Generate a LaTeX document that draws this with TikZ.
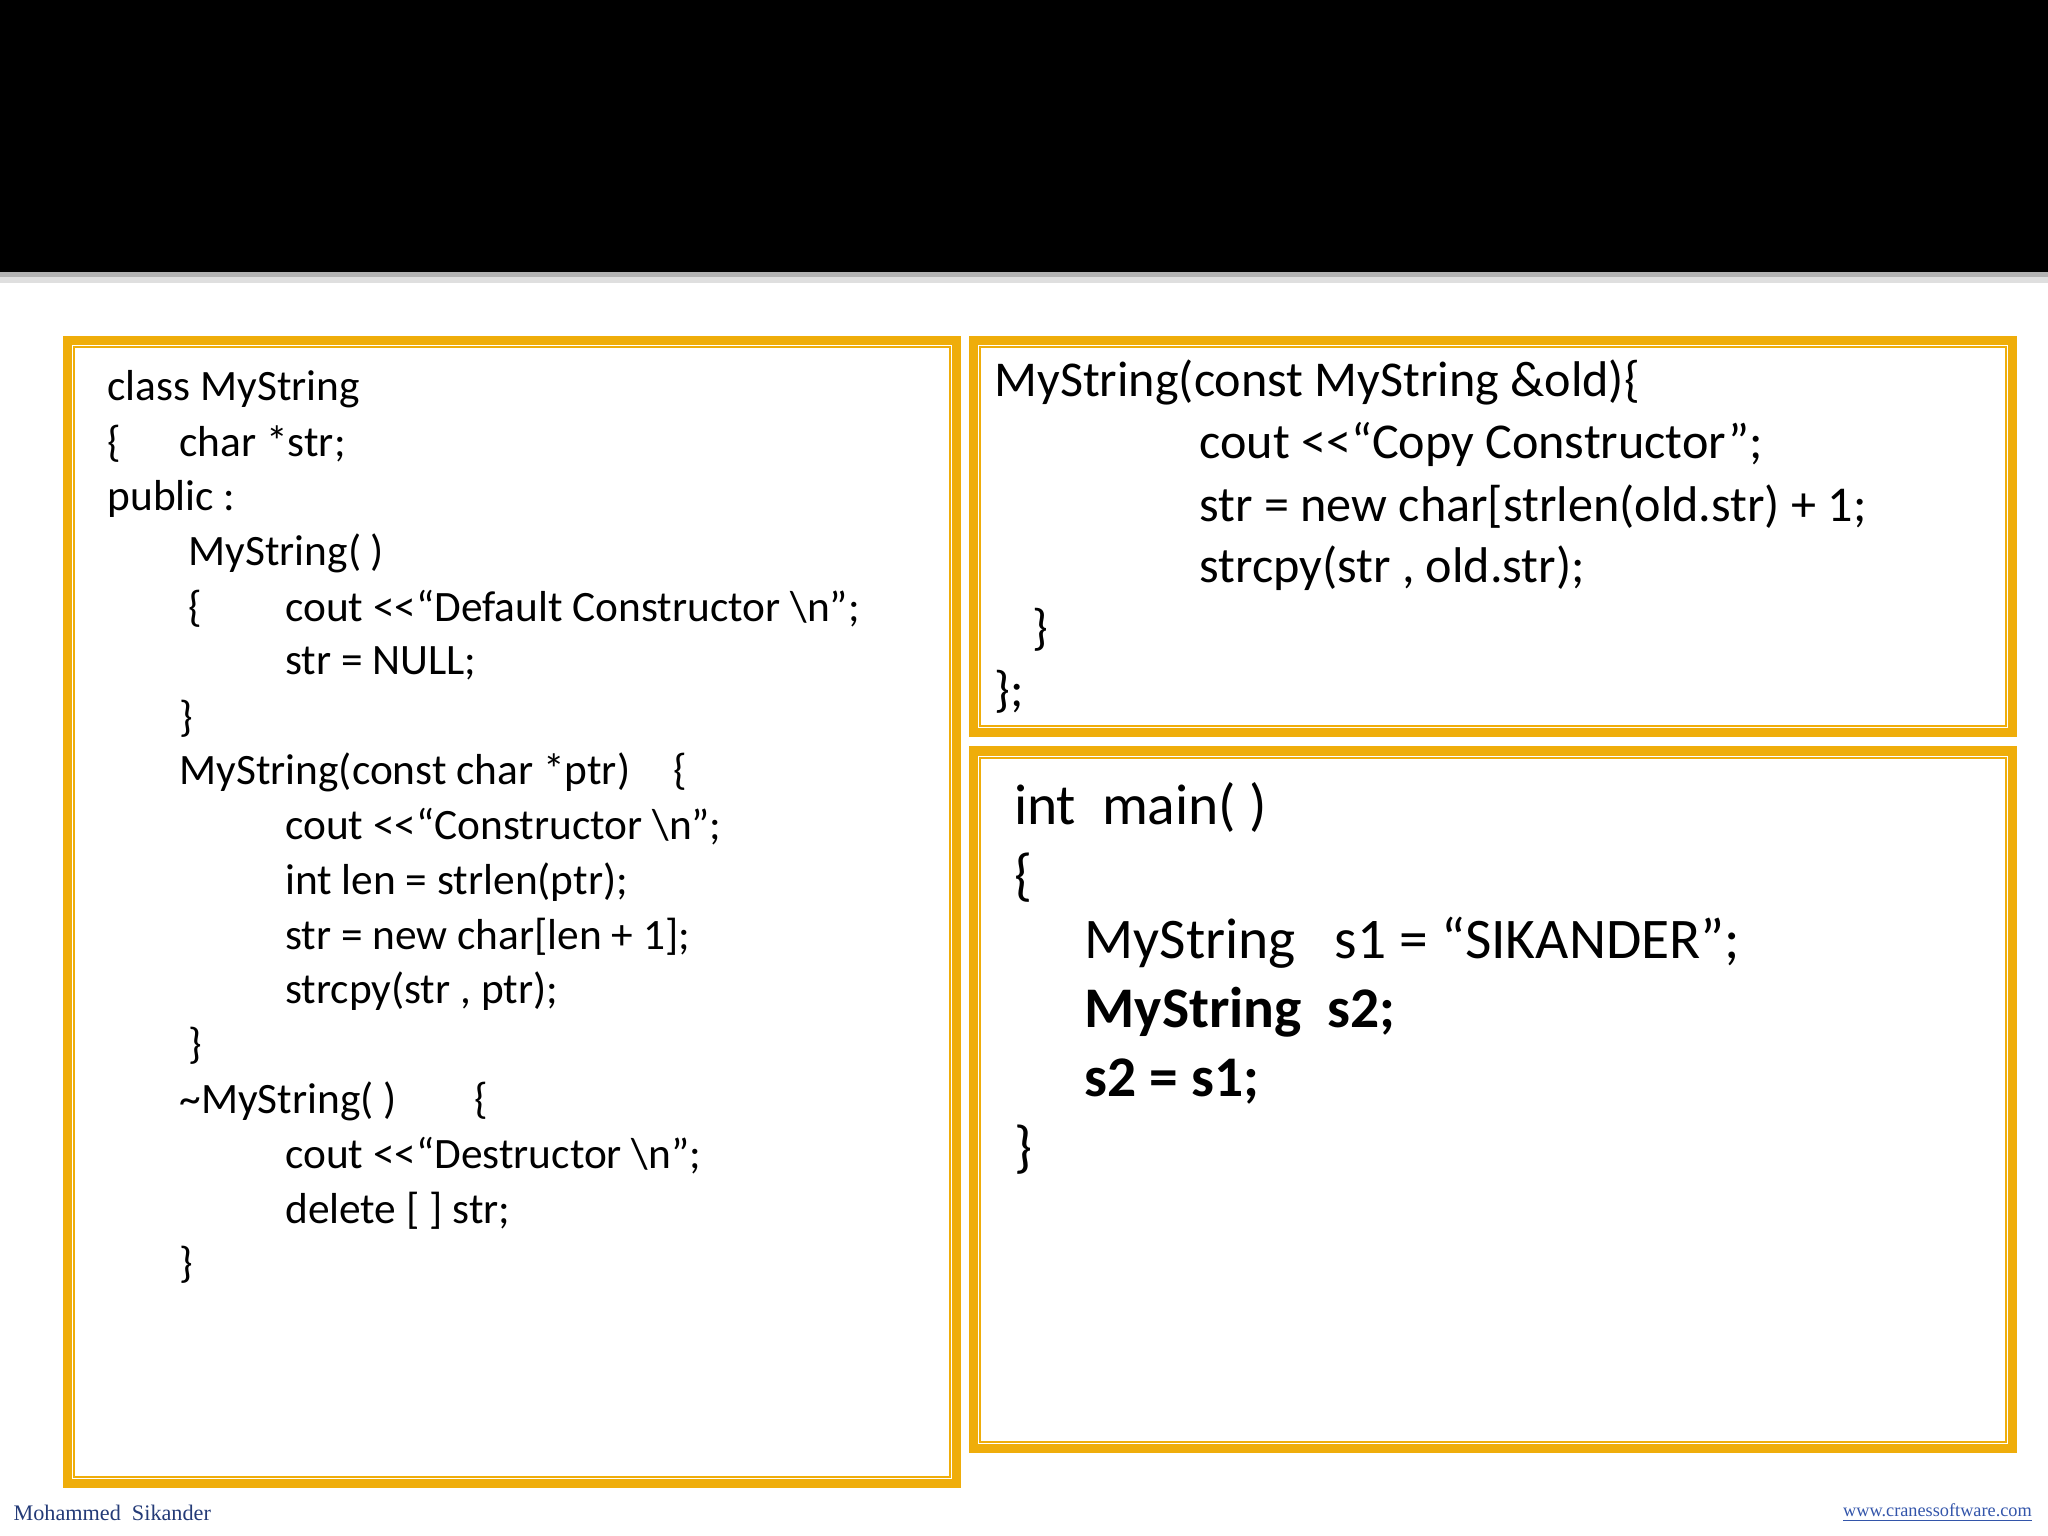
\documentclass[tikz,border=0pt]{standalone}
\usepackage{fontspec}
\setmainfont{Carlito}
\newfontfamily\tnr{Liberation Serif}
\definecolor{org}{HTML}{EFAD0A}
\definecolor{lnk}{HTML}{3355AA}
\newcommand{\ltlt}{{<}{<}}
\begin{document}
\begin{tikzpicture}[x=0.5pt,y=-0.5pt,
  frame/.style={draw=org,line width=3.5pt},
  inner/.style={draw=org,line width=0.8pt},
  code/.style={anchor=west,inner sep=0pt,font=\fontsize{16.6}{16.6}\selectfont},
  codeb/.style={anchor=west,inner sep=0pt,font=\fontsize{19.2}{19.2}\selectfont},
  codec/.style={anchor=west,inner sep=0pt,font=\fontsize{22}{22}\selectfont}]
\useasboundingbox (0,0) rectangle (1568,1176);
\fill[black] (0,0) rectangle (1568,208);
\fill[gray!60] (0,208) rectangle (1568,212);
\fill[gray!25] (0,212) rectangle (1568,217);
% boxes
\draw[frame] (52,261) rectangle (732,1136);
\draw[inner] (57,266) rectangle (727,1131);
\draw[frame] (745,261) rectangle (1541,561);
\draw[inner] (750,266) rectangle (1536,556);
\draw[frame] (745,575) rectangle (1541,1109);
\draw[inner] (750,580) rectangle (1536,1104);
% left code
\node[code] (l1) at (82,298) {class MyString};
\node[code] (l2a) at (82,340) {\{};
\node[code] (l2) at (137,340) {char *str;};
\node[code] (l3) at (82,382) {public :};
\node[code] (l4) at (144,424) {MyString( )};
\node[code] (l5a) at (144,466) {\{};
\node[code] (l5) at (218,466) {cout \ltlt“Default Constructor \textbackslash n”;};
\node[code] (l6) at (218,508) {str = NULL;};
\node[code] (l7) at (137,550) {\}};
\node[code] (l8) at (137,591) {MyString(const char *ptr)\hspace{1em}\{};
\node[code] (l9) at (218,633) {cout \ltlt“Constructor \textbackslash n”;};
\node[code] (l10) at (218,675) {int len = strlen(ptr);};
\node[code] (l11) at (218,717) {str = new char[len + 1];};
\node[code] (l12) at (218,759) {strcpy(str , ptr);};
\node[code] (l13) at (144,801) {\}};
\node[code] (l14) at (137,843) {\textasciitilde MyString( )\hspace{1.8em}\{};
\node[code] (l15) at (218,885) {cout \ltlt“Destructor \textbackslash n”;};
\node[code] (l16) at (218,927) {delete [ ] str;};
\node[code] (l17) at (137,968) {\}};
% right top
\node[codeb] (r1) at (761,293) {MyString(const MyString \&old)\{};
\node[codeb] (r2) at (918,340) {cout \ltlt“Copy Constructor”;};
\node[codeb] (r3) at (918,388) {str = new char[strlen(old.str) + 1;};
\node[codeb] (r4) at (918,435) {strcpy(str , old.str);};
\node[codeb] (r5) at (790,482) {\}};
\node[codeb] (r6) at (761,530) {\};};
% right bottom
\node[codec] (m1) at (776,618) {int\ \ main( )};
\node[codec] (m2) at (776,672) {\{};
\node[codec] (m3) at (830,722) {MyString\ \ \ s1 = “SIKANDER”;};
\node[codec,font=\fontsize{22}{22}\selectfont\bfseries] (m4) at (830,775) {MyString\ \ s2;};
\node[codec,font=\fontsize{22}{22}\selectfont\bfseries] (m5) at (830,828) {s2 = s1;};
\node[codec] (m6) at (776,880) {\}};
% footer
\node[anchor=west,inner sep=0pt,text=lnk!70!black,font=\tnr\fontsize{8.5}{8.5}\selectfont] (f1) at (10,1158) {Mohammed\ \ Sikander};
\node[anchor=east,inner sep=0pt,text=lnk,font=\tnr\fontsize{7}{7}\selectfont] (f2) at (1556,1158) {\underline{www.cranessoftware.com}};
\end{tikzpicture}
\end{document}
